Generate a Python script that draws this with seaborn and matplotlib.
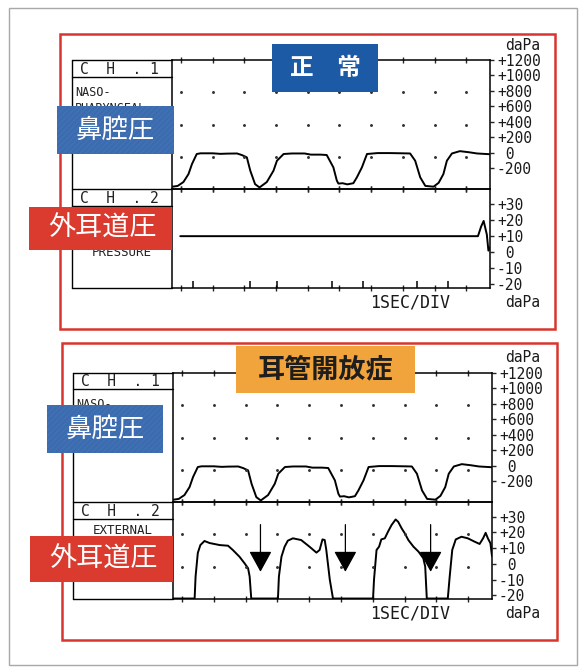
import numpy as np
import pandas as pd
import matplotlib
matplotlib.use("Agg")
import matplotlib.pyplot as plt
import seaborn as sns
from matplotlib.patches import Rectangle
from matplotlib.lines import Line2D

# ---------------------------------------------------------------- data
# nasopharyngeal pressure trace (time in s, pressure in daPa)
nasal_t = [-0.28, -0.10, 0.08, 0.24, 0.35, 0.50, 0.62, 1.00, 1.25, 1.45, 1.77, 1.92, 2.08,
           2.19, 2.34, 2.48, 2.71, 2.92, 3.03, 3.24, 3.50, 3.90, 4.10, 4.40, 4.60, 4.81,
           4.92, 4.97, 5.10, 5.25, 5.44, 5.55, 5.71, 5.87, 6.20, 6.60, 7.00, 7.23, 7.39,
           7.55, 7.71, 7.97, 8.13, 8.28, 8.39, 8.55, 8.80, 9.10, 9.34, 9.75]
nasal_v = [-441, -430, -380, -277, -147, -17, -8, -8, -15, -12, -10, -30, -60,
           -234, -407, -450, -380, -234, -104, -17, -10, -10, -25, -25, -30, -190,
           -363, -400, -395, -410, -395, -320, -190, -17, -5, -5, -8, -10, -104,
           -320, -430, -440, -390, -277, -104, -10, 20, 5, -10, -20]

# external ear canal pressure, normal case
ear_normal_t = [-0.02, 9.37, 9.47, 9.55, 9.65, 9.70, 9.75]
ear_normal_v = [10, 10, 16, 19.5, 11, 1, 3]
event_times = [0.38, 2.19, 3.03, 4.76, 5.76, 7.44, 8.41]

# external ear canal pressure, patulous Eustachian tube
ear_open_t = [-0.29, 0.40, 0.43, 0.50, 0.58, 0.71, 0.87, 1.19, 1.45, 1.60, 1.81, 1.97,
              2.08, 2.13, 2.18, 3.02, 3.05, 3.13, 3.23, 3.33, 3.49, 3.75, 4.01, 4.23,
              4.33, 4.42, 4.49, 4.54, 4.65, 4.75, 6.01, 6.04, 6.12, 6.20, 6.27, 6.38,
              6.48, 6.59, 6.72, 6.80, 6.91, 7.01, 7.12, 7.28, 7.44, 7.59, 7.65, 7.70,
              8.36, 8.42, 8.50, 8.61, 8.79, 8.99, 9.20, 9.36, 9.47, 9.55, 9.62, 9.70,
              9.75]
ear_open_v = [-22, -22, -8, 7, 12, 14.6, 13.3, 12, 11.6, 8.9, 4.6, 0.4,
              -2.7, -8, -22, -22, -8, 4.6, 11, 14.8, 16.3, 15.2, 11, 7.2,
              8.9, 15.6, 15.2, 8.9, -10, -22, -22, -10, 8.9, 11, 15.6, 16.3,
              20.5, 24.7, 28.3, 26.8, 22.6, 19.4, 15.2, 11, 7.8, 3.6, -1.7, -22,
              -22, -8, 8.9, 15.6, 17.3, 16.3, 14.2, 12.7, 16.3, 19.8, 16.3, 13.2,
              5]
arrow_times = [2.47, 5.14, 7.82]

nasal_ticks = [1200, 1000, 800, 600, 400, 200, 0, -200]
nasal_tick_labels = ["+1200", "+1000", "+800", "+600", "+400", "+200", " 0", "-200"]
ear_ticks = [30, 20, 10, 0, -10, -20]
ear_tick_labels = ["+30", "+20", "+10", " 0", "-10", "-20"]

nasal_df = pd.DataFrame({"t": nasal_t, "daPa": nasal_v})
ear_normal_df = pd.DataFrame({"t": ear_normal_t, "daPa": ear_normal_v})
ear_open_df = pd.DataFrame({"t": ear_open_t, "daPa": ear_open_v})

# ---------------------------------------------------------------- setup
W, H = 583, 668
sns.set_style("white")
plt.rcParams["font.family"] = ["DejaVu Sans Mono", "Noto Sans CJK JP"]
plt.rcParams["hatch.linewidth"] = 0.6
CJK = ["Noto Sans CJK JP", "DejaVu Sans"]
MONO = "DejaVu Sans Mono"
INK = "#222222"

fig = plt.figure(figsize=(W / 100, H / 100), dpi=100)
fig.patch.set_facecolor("white")

TMIN, TMAX = -0.28, 9.75
NASAL_LIM = (-470, 1200)
EAR_LIM = (-22.3, 39.4)
GRID_COLS = np.arange(10)


def fx(x):
    return x / W


def fy(y):
    return 1 - y / H


def add_rect(x0, y0, x1, y1, **kw):
    r = Rectangle((fx(x0), fy(y1)), (x1 - x0) / W, (y1 - y0) / H,
                  transform=fig.transFigure, **kw)
    fig.add_artist(r)
    return r


def add_line(x0, y0, x1, y1, **kw):
    kw.setdefault("color", "black")
    kw.setdefault("linewidth", 1.0)
    fig.add_artist(Line2D([fx(x0), fx(x1)], [fy(y0), fy(y1)],
                          transform=fig.transFigure, **kw))


def text(x, y, s, **kw):
    fig.text(fx(x), fy(y), s, **kw)


def make_axes(left, right, top, bottom):
    return fig.add_axes([fx(left), fy(bottom), (right - left) / W, (bottom - top) / H])


def style_axes(ax, ylim, ticks, labels, dot_rows):
    ax.set_xlim(TMIN, TMAX)
    ax.set_ylim(*ylim)
    ax.set_facecolor("none")
    for s in ax.spines.values():
        s.set_visible(True)
        s.set_color("black")
        s.set_linewidth(1.1)
    ax.yaxis.tick_right()
    ax.set_yticks(ticks)
    ax.set_yticklabels(labels)
    ax.tick_params(axis="y", right=True, left=False, direction="out", length=3,
                   width=1, pad=2, labelsize=10.5, labelcolor="#1a1a1a")
    ax.set_xticks(GRID_COLS)
    ax.tick_params(axis="x", bottom=True, top=True, direction="inout", length=4,
                   width=1, labelbottom=False)
    ax.set_xlabel("")
    ax.set_ylabel("")
    for r in dot_rows:
        ax.plot(GRID_COLS, np.full(len(GRID_COLS), r), ".", ms=2.2, color="#333333",
                transform=ax.get_xaxis_transform(), clip_on=False)


def draw_panel(p):
    left, right = p["left"], p["right"]
    top, mid, bot = p["top"], p["mid"], p["bot"]

    # red frame around the recording
    add_rect(*p["frame"], fill=False, edgecolor="#d8352f", linewidth=1.8)

    # CH.1: nasopharyngeal pressure
    ax1 = make_axes(left, right, top, mid)
    sns.lineplot(data=nasal_df, x="t", y="daPa", ax=ax1, color="black",
                 linewidth=1.4, estimator=None, sort=False, legend=False)
    style_axes(ax1, NASAL_LIM, nasal_ticks, nasal_tick_labels, [0.75, 0.5, 0.25])

    # CH.2: external ear canal pressure
    ax2 = make_axes(left, right, mid, bot)
    sns.lineplot(data=p["ear"], x="t", y="daPa", ax=ax2, color="black",
                 linewidth=1.4, estimator=None, sort=False, legend=False)
    style_axes(ax2, EAR_LIM, ear_ticks, ear_tick_labels, p["ear_dots"])
    if p["events"]:
        ax2.vlines(event_times, EAR_LIM[0], EAR_LIM[0] + 4.5, color="black", linewidth=1.1)
    if p["arrows"]:
        for t in arrow_times:
            ax2.annotate("", xy=(t, -5), xytext=(t, 25),
                         arrowprops=dict(arrowstyle="-|>,head_length=1.0,head_width=0.55",
                                         mutation_scale=13, color="black", lw=0.9,
                                         shrinkA=0, shrinkB=0))

    # channel label column on the left
    bl = p["box_left"]
    add_line(bl, top, left, top)
    add_line(bl, bot, left, bot)
    add_line(bl, top, bl, bot)
    add_line(bl, p["hdr1"], left, p["hdr1"])
    add_line(bl, mid, left, mid)
    add_line(bl, p["hdr2"], left, p["hdr2"])
    text(bl + 8, (top + p["hdr1"]) / 2 + 1, "C  H  . 1", family=MONO, fontsize=10.5,
         va="center", ha="left", color=INK)
    text(bl + 8, (mid + p["hdr2"]) / 2 + 1, "C  H  . 2", family=MONO, fontsize=10.5,
         va="center", ha="left", color=INK)
    for s, y in p["ch1_lines"]:
        text(bl + 3, y, s, family=MONO, fontsize=8.5, va="center", ha="left", color=INK)
    for s, y in p["ch2_lines"]:
        text((bl + left) / 2, y, s, family=MONO, fontsize=9, va="center", ha="center",
             color=INK)

    # units and time base
    text(505, p["dapa_top"], "daPa", family=MONO, fontsize=10.5, va="center", color="#1a1a1a")
    text(505, p["dapa_bot"], "daPa", family=MONO, fontsize=10.5, va="center", color="#1a1a1a")
    text(370, p["dapa_bot"], "1SEC/DIV", family=MONO, fontsize=12, va="center",
         color="#1a1a1a")

    # title tag
    x0, y0, x1, y1 = p["title_box"]
    add_rect(x0, y0, x1, y1, facecolor=p["title_face"], edgecolor="none", zorder=5)
    text((x0 + x1) / 2, (y0 + y1) / 2, p["title"], family=CJK, fontsize=p["title_size"],
         fontweight="bold", color=p["title_color"], ha="center", va="center", zorder=6)

    # channel tags
    x0, y0, x1, y1 = p["nose_box"]
    add_rect(x0, y0, x1, y1, facecolor="#3c6cb0", edgecolor="#4674b6", linewidth=0,
             hatch="//////", zorder=5)
    text((x0 + x1) / 2, (y0 + y1) / 2, "鼻腔圧", family=CJK, fontsize=19,
         color="white", ha="center", va="center", zorder=6)
    x0, y0, x1, y1 = p["ear_box"]
    add_rect(x0, y0, x1, y1, facecolor="#db3a2e", edgecolor="none", zorder=5)
    text((x0 + x1) / 2 + 2, (y0 + y1) / 2, "外耳道圧", family=CJK, fontsize=19.5,
         color="white", ha="center", va="center", zorder=6)


panels = [
    dict(frame=(60, 34, 555, 329), left=172, right=490, top=60, mid=189, bot=288,
         box_left=72, hdr1=77, hdr2=206, ear=ear_normal_df, ear_dots=[], events=True,
         arrows=False, dapa_top=46, dapa_bot=302,
         ch1_lines=[("NASO-", 93), ("PHARYNGEAL", 109)],
         ch2_lines=[("PRESSURE", 253)],
         title="正　常", title_box=(272, 44, 378, 92), title_face="#1c5aa6",
         title_color="white", title_size=17,
         nose_box=(57, 106, 174, 154), ear_box=(29, 207, 172, 250)),
    dict(frame=(62, 343, 557, 640), left=173, right=492, top=373, mid=502, bot=599,
         box_left=73, hdr1=389, hdr2=519, ear=ear_open_df, ear_dots=[2 / 3, 1 / 3],
         events=False, arrows=True, dapa_top=357, dapa_bot=614,
         ch1_lines=[("NASO-", 405)],
         ch2_lines=[("EXTERNAL", 531)],
         title="耳管開放症", title_box=(236, 346, 415, 393), title_face="#f2a43c",
         title_color="#1e1e1e", title_size=19.5,
         nose_box=(47, 405, 163, 453), ear_box=(30, 536, 173, 582)),
]

# light outer frame of the page
add_rect(9, 8, 577, 665, fill=False, edgecolor="#a8a8a8", linewidth=1.0)

for p in panels:
    draw_panel(p)

fig.savefig("out.png", dpi=100, facecolor="white")
